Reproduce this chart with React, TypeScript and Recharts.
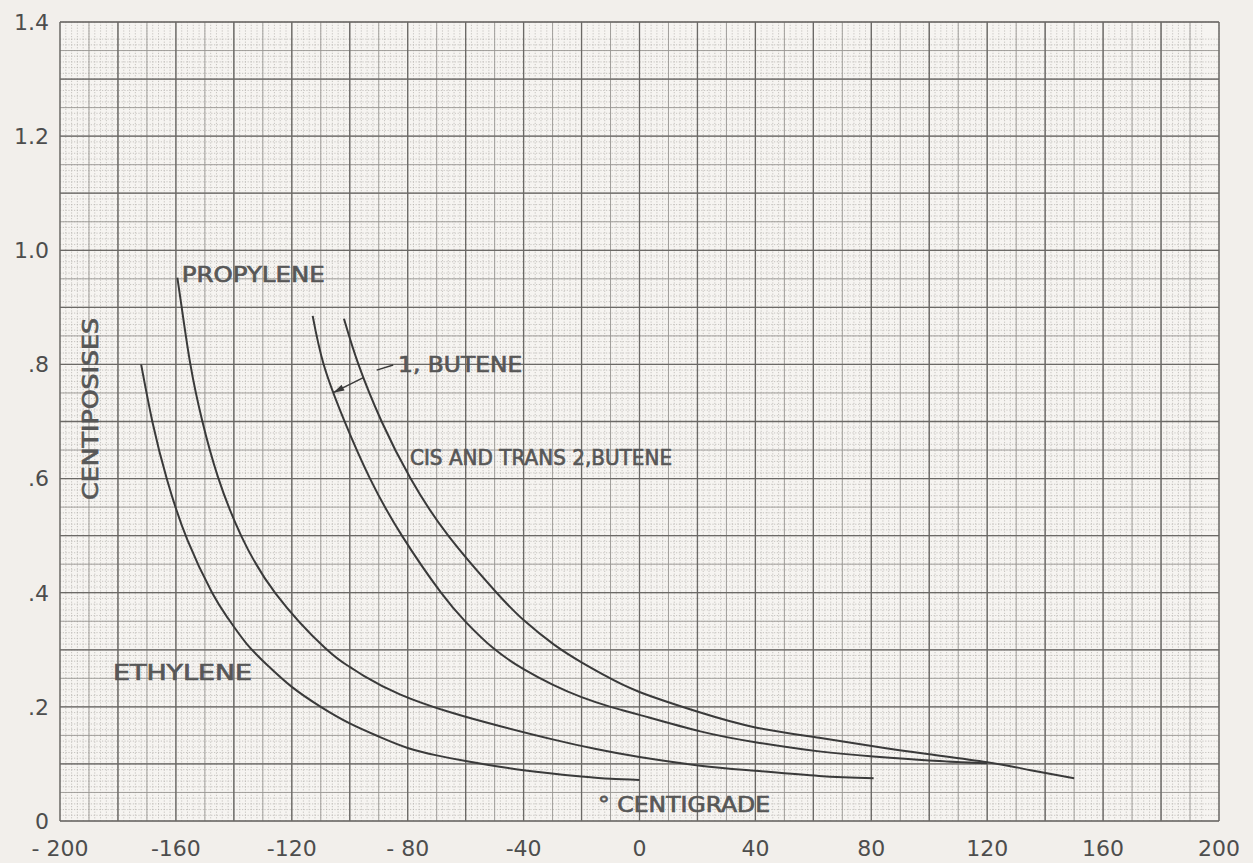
import React from 'react';
import { LineChart, Line, XAxis, YAxis, CartesianGrid, ReferenceDot, ReferenceLine } from 'recharts';

// ---- data (temperature °C, viscosity centipoises) ----
const ethylene = [
  { t: -172, v: 0.8 }, { t: -168, v: 0.697 }, { t: -163, v: 0.597 }, { t: -156, v: 0.492 },
  { t: -147.5, v: 0.4 }, { t: -142, v: 0.355 }, { t: -135.5, v: 0.31 }, { t: -128, v: 0.271 },
  { t: -120, v: 0.235 }, { t: -110, v: 0.2 }, { t: -100, v: 0.171 }, { t: -90, v: 0.148 },
  { t: -80, v: 0.128 }, { t: -70, v: 0.115 }, { t: -60, v: 0.105 }, { t: -40, v: 0.089 },
  { t: -20, v: 0.078 }, { t: -10, v: 0.074 }, { t: 0, v: 0.072 },
];
const propylene = [
  { t: -159.5, v: 0.952 }, { t: -158, v: 0.9 }, { t: -155, v: 0.8 }, { t: -151, v: 0.703 },
  { t: -145.5, v: 0.603 }, { t: -137.5, v: 0.5 }, { t: -125.5, v: 0.398 }, { t: -108.5, v: 0.303 },
  { t: -100, v: 0.27 }, { t: -95, v: 0.254 }, { t: -82.7, v: 0.222 }, { t: -65, v: 0.19 },
  { t: -48, v: 0.166 }, { t: -30, v: 0.143 }, { t: -15, v: 0.126 }, { t: 0, v: 0.112 },
  { t: 21, v: 0.097 }, { t: 40, v: 0.088 }, { t: 62, v: 0.079 }, { t: 80.8, v: 0.075 },
];
const butene1 = [
  { t: -112.8, v: 0.885 }, { t: -109, v: 0.8 }, { t: -102, v: 0.703 }, { t: -93, v: 0.6 },
  { t: -82, v: 0.5 }, { t: -68.5, v: 0.4 }, { t: -60, v: 0.349 }, { t: -50.5, v: 0.303 },
  { t: -40, v: 0.266 }, { t: -30, v: 0.239 }, { t: -20, v: 0.217 }, { t: -10, v: 0.2 },
  { t: 0, v: 0.186 }, { t: 21, v: 0.157 }, { t: 40, v: 0.138 }, { t: 62, v: 0.122 },
  { t: 80.7, v: 0.113 }, { t: 100, v: 0.106 }, { t: 120, v: 0.101 },
];
const butene2 = [
  { t: -102, v: 0.88 }, { t: -97, v: 0.8 }, { t: -89, v: 0.7 }, { t: -79, v: 0.6 },
  { t: -66, v: 0.5 }, { t: -49.3, v: 0.4 }, { t: -40, v: 0.352 }, { t: -29.5, v: 0.309 },
  { t: -20, v: 0.278 }, { t: -12, v: 0.255 }, { t: 0, v: 0.226 }, { t: 21, v: 0.19 },
  { t: 40, v: 0.164 }, { t: 62, v: 0.146 }, { t: 80.7, v: 0.131 }, { t: 100, v: 0.117 },
  { t: 120, v: 0.103 }, { t: 135, v: 0.089 }, { t: 150, v: 0.075 },
];

const xTicks = [-200, -160, -120, -80, -40, 0, 40, 80, 120, 160, 200];
const xTickLabels = ['- 200', '-160', '-120', '- 80', '-40', '0', '40', '80', '120', '160', '200'];
const yTicks = [0, 0.2, 0.4, 0.6, 0.8, 1.0, 1.2, 1.4];
const yTickLabels = ['0', '.2', '.4', '.6', '.8', '1.0', '1.2', '1.4'];

// grid positions (graph paper)
const range = (a: number, b: number, step: number) => {
  const out: number[] = [];
  const n = Math.round((b - a) / step);
  for (let i = 0; i <= n; i++) out.push(+(a + i * step).toFixed(4));
  return out;
};
const xFine = range(-200, 200, 2);
const xMid = range(-200, 200, 10);
const xMajor = range(-200, 200, 20);
const yFine = range(0, 1.4, 0.01);
const yMid = range(0, 1.4, 0.05);
const yMajor = range(0, 1.4, 0.1);

const INK = '#3a3a3a';
const TEXT = '#575757';
const FONT = '"DejaVu Sans", sans-serif';

const textShape = (label: string, width: number, opts: { rotate?: boolean; anchor?: string } = {}) => (p: any) => {
  const { cx, cy } = p;
  return (
    <text
      x={cx}
      y={cy}
      fill={TEXT}
      stroke={TEXT}
      strokeWidth={0.7}
      fontFamily={FONT}
      fontSize={21}
      textAnchor={opts.anchor || 'start'}
      textLength={width}
      lengthAdjust="spacingAndGlyphs"
      transform={opts.rotate ? `rotate(-90 ${cx} ${cy})` : undefined}
    >
      {label}
    </text>
  );
};

const arrowHead = (p: any) => {
  const { cx, cy } = p;
  const dx = 0.89, dy = -0.46; // back direction
  const L = 11, W = 3.2;
  const bx = cx + dx * L, by = cy + dy * L;
  const px = -dy * W, py = dx * W;
  return <polygon points={`${cx},${cy} ${bx + px},${by + py} ${bx - px},${by - py}`} fill={INK} />;
};

export default function App() {
  return (
    <div style={{ position: 'absolute', left: 0, top: 0, width: 1253, height: 863, background: '#f2efeb' }}>
      <LineChart width={1253} height={863} margin={{ top: 22, right: 34, left: 0, bottom: 0 }}>
        <CartesianGrid
          verticalValues={xFine}
          horizontalValues={yFine}
          stroke="#b3b0ac"
          strokeWidth={0.7}
          strokeDasharray="1.2 1.6"
          fill="#f6f4f1"
        />
        <CartesianGrid verticalValues={xMid} horizontalValues={yMid} stroke="#9a9794" strokeWidth={0.9} />
        <CartesianGrid verticalValues={xMajor} horizontalValues={yMajor} stroke="#6b6966" strokeWidth={1.3} />
        <XAxis
          dataKey="t"
          type="number"
          domain={[-200, 200]}
          ticks={xTicks}
          tickFormatter={(v: number) => xTickLabels[xTicks.indexOf(v)]}
          height={42}
          tickSize={0}
          tickMargin={19}
          axisLine={false}
          tickLine={false}
          allowDataOverflow
          tick={{ fill: '#4d4d4d', fontSize: 22, fontFamily: FONT }}
        />
        <YAxis
          type="number"
          domain={[0, 1.4]}
          ticks={yTicks}
          tickFormatter={(v: number) => yTickLabels[yTicks.indexOf(v)]}
          width={60}
          tickSize={0}
          tickMargin={11}
          axisLine={false}
          tickLine={false}
          allowDataOverflow
          tick={{ fill: '#4d4d4d', fontSize: 22, fontFamily: FONT }}
        />
        <Line data={ethylene} dataKey="v" type="natural" dot={false} stroke={INK} strokeWidth={2} isAnimationActive={false} />
        <Line data={propylene} dataKey="v" type="natural" dot={false} stroke={INK} strokeWidth={2} isAnimationActive={false} />
        <Line data={butene1} dataKey="v" type="natural" dot={false} stroke={INK} strokeWidth={2} isAnimationActive={false} />
        <Line data={butene2} dataKey="v" type="natural" dot={false} stroke={INK} strokeWidth={2} isAnimationActive={false} />

        <ReferenceLine segment={[{ x: -85, y: 0.799 }, { x: -90.7, y: 0.79 }]} stroke={INK} strokeWidth={1.5} />
        <ReferenceLine segment={[{ x: -95.3, y: 0.777 }, { x: -105.7, y: 0.7505 }]} stroke={INK} strokeWidth={1.5} />
        <ReferenceDot x={-105.7} y={0.7505} r={0} shape={arrowHead} />

        <ReferenceDot x={-158} y={0.944} r={0} shape={textShape('PROPYLENE', 143)} />
        <ReferenceDot x={-83.3} y={0.787} r={0} shape={textShape('1, BUTENE', 124)} />
        <ReferenceDot x={-79.2} y={0.624} r={0} shape={textShape('CIS AND TRANS 2,BUTENE', 262)} />
        <ReferenceDot x={-181.7} y={0.247} r={0} shape={textShape('ETHYLENE', 139)} />
        <ReferenceDot x={-14.3} y={0.016} r={0} shape={textShape('° CENTIGRADE', 172)} />
        <ReferenceDot x={-186.9} y={0.722} r={0} shape={textShape('CENTIPOSISES', 182, { rotate: true, anchor: 'middle' })} />
      </LineChart>
    </div>
  );
}
